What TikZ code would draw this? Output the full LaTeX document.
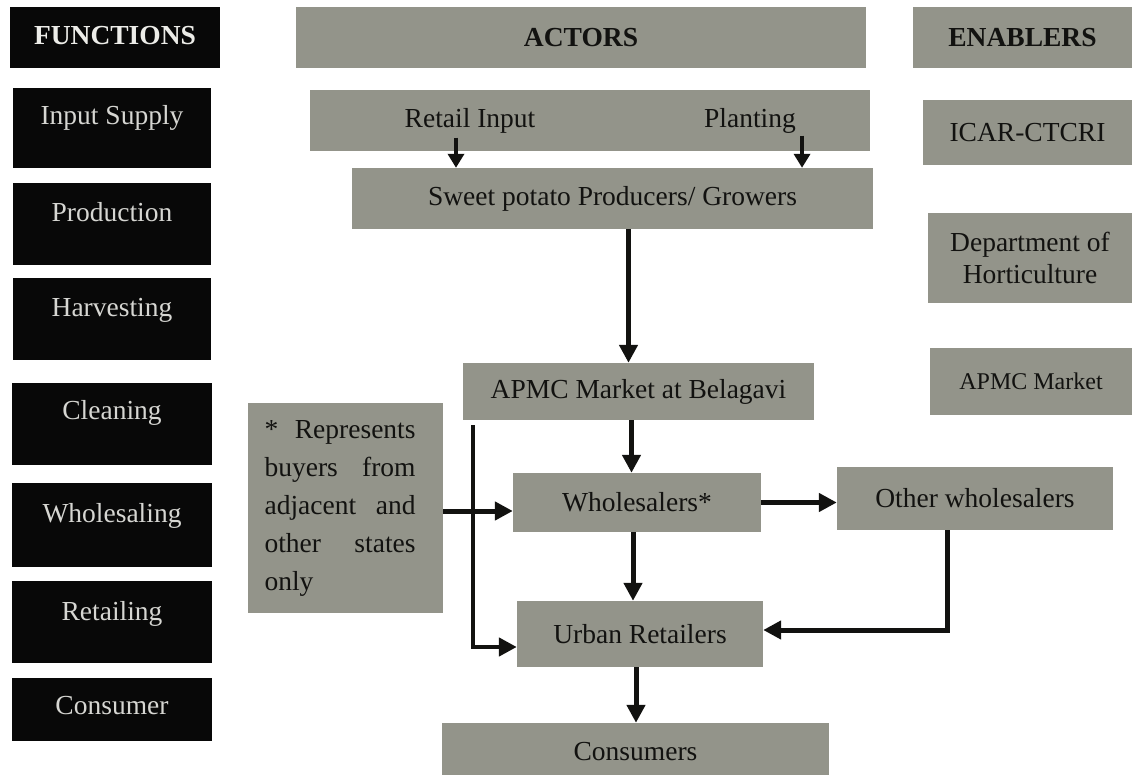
\documentclass[tikz,border=0pt]{standalone}
\usepackage{fontspec}
\setmainfont{Liberation Serif}
\usetikzlibrary{arrows.meta}

\definecolor{panel}{RGB}{147,148,138}
\definecolor{inkbox}{RGB}{8,8,8}
\definecolor{paletext}{RGB}{214,214,210}
\definecolor{headtext}{RGB}{236,236,232}
\definecolor{darkink}{RGB}{18,18,16}

% rectangle node from its corner coordinates: style, name, x1, y1, x2, y2, text
\newcommand{\rectnode}[7]{%
  \pgfmathsetmacro{\bxW}{#5-#3}%
  \pgfmathsetmacro{\bxH}{#6-#4}%
  \pgfmathsetmacro{\bxX}{(#3+#5)/2}%
  \pgfmathsetmacro{\bxY}{(#4+#6)/2}%
  \node[#1, minimum width=\bxW pt, minimum height=\bxH pt] (#2) at (\bxX,\bxY) {#7};}

\begin{document}
\begin{tikzpicture}[x=1pt,y=-1pt,
  every node/.style={font=\fontsize{27.5}{32}\selectfont},
  fbox/.style={fill=inkbox, text=paletext, inner sep=0pt, text height=20pt, text depth=6pt},
  gbox/.style={fill=panel, text=darkink, inner sep=0pt, align=center},
  hd/.style={font=\fontsize{27.5}{32}\selectfont\bfseries},
  lift/.style={text depth=#1},
  txt/.style={text=darkink, inner sep=0pt},
  arr/.style={line width=5pt, draw=darkink, -{Triangle[width=18pt,length=18pt]}},
  sarr/.style={line width=4pt, draw=darkink, -{Triangle[width=16pt,length=14pt]}}]

\useasboundingbox[fill=white] (0,0) rectangle (1138,775);

% functions column
\rectnode{fbox,hd,text=headtext}{fhead}{10}{7}{220}{68}{FUNCTIONS}
\rectnode{fbox,lift=26pt}{f1}{13}{88}{211}{168}{Input Supply}
\rectnode{fbox,lift=24pt}{f2}{13}{183}{211}{265}{Production}
\rectnode{fbox,lift=24pt}{f3}{13}{278}{211}{360}{Harvesting}
\rectnode{fbox,lift=28pt}{f4}{12}{383}{212}{465}{Cleaning}
\rectnode{fbox,lift=26pt}{f5}{12}{483}{212}{567}{Wholesaling}
\rectnode{fbox,lift=24pt}{f6}{12}{581}{212}{663}{Retailing}
\rectnode{fbox,lift=10pt}{f7}{12}{678}{212}{741}{Consumer}

% actors column
\rectnode{gbox,hd}{ahead}{296}{7}{866}{68}{ACTORS}
\rectnode{gbox}{inbox}{310}{90}{870}{151}{}
\node[txt] (retail) at (470,121) {Retail Input};
\node[txt] (plant) at (750,121) {Planting};
\rectnode{gbox}{sp}{352}{168}{873}{229}{Sweet potato Producers/ Growers}
\rectnode{gbox}{apmc}{463}{363}{814}{420}{APMC Market at Belagavi}
\rectnode{gbox}{wh}{513}{473}{761}{532}{Wholesalers*}
\rectnode{gbox}{ow}{837}{467}{1113}{530}{Other wholesalers}
\rectnode{gbox}{ur}{517}{601}{763}{667}{Urban Retailers}
\rectnode{gbox}{cons}{442}{723}{829}{780}{Consumers}
\rectnode{gbox,font=\fontsize{27.5}{38}\selectfont,align=left}{rep}{248}{403}{443}{613}{%
  \makebox[151pt][s]{* Represents}\\
  \makebox[151pt][s]{buyers from}\\
  \makebox[151pt][s]{adjacent and}\\
  \makebox[151pt][s]{other states}\\
  only\hspace*{113pt}}

% enablers column
\rectnode{gbox,hd}{ehead}{913}{7}{1132}{68}{ENABLERS}
\rectnode{gbox}{e1}{923}{100}{1132}{165}{ICAR-CTCRI}
\rectnode{gbox}{e2}{928}{213}{1132}{303}{Department of\\Horticulture}
\rectnode{gbox,font=\fontsize{24}{28}\selectfont}{e3}{930}{348}{1132}{415}{APMC Market}

% connectors
\draw[sarr] ([xshift=-14pt,yshift=-4pt]retail.south) -- ([xshift=-14pt]retail.south |- sp.north);
\draw[sarr] ([xshift=6pt,yshift=-2pt]plant.south east) -- ([xshift=6pt]plant.south east |- sp.north);
\draw[arr] ([xshift=16pt]sp.south) -- ([xshift=16pt]sp.south |- apmc.north);
\draw[arr] ([xshift=-7pt]apmc.south) -- ([xshift=-7pt]apmc.south |- wh.north);
\draw[arr] ([xshift=-4pt]wh.south) -- ([xshift=-4pt]wh.south |- ur.north);
\draw[arr] ([xshift=-4pt]ur.south) -- ([xshift=-4pt]ur.south |- cons.north);
\draw[arr] (wh.east) -- (wh.east -| ow.west);
\draw[arr] ([yshift=-3pt]rep.east) -- ([yshift=-3pt]rep.east -| wh.west);
\draw[arr, line width=4.5pt] ([xshift=10pt,yshift=-5pt]apmc.south west) |- ([yshift=-13pt]ur.west);
\draw[arr] ([xshift=-28pt]ow.south) |- ([yshift=4pt]ur.east);

\end{tikzpicture}
\end{document}
